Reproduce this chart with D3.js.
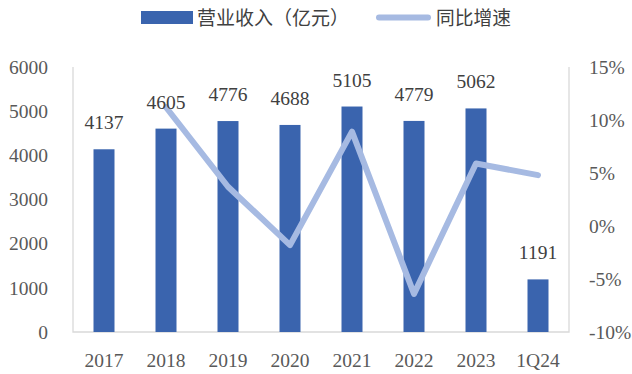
<!DOCTYPE html>
<html>
<head>
<meta charset="utf-8">
<script src="https://cdn.jsdelivr.net/npm/d3@7"></script>
<style>
  html, body { margin: 0; padding: 0; background: #fff; }
  svg { display: block; }
</style>
</head>
<body>
<svg id="chart" width="632" height="374"></svg>
<script>
// Revenue (100M CNY) and year-over-year growth
const categories = ["2017", "2018", "2019", "2020", "2021", "2022", "2023", "1Q24"];
const revenue = [4137, 4605, 4776, 4688, 5105, 4779, 5062, 1191];
const growthYears = ["2018", "2019", "2020", "2021", "2022", "2023", "1Q24"];
const growth = [11.2, 3.7, -1.8, 8.9, -6.4, 5.9, 4.8];
const leftTicks = [0, 1000, 2000, 3000, 4000, 5000, 6000];
const rightTicks = [-10, -5, 0, 5, 10, 15];
const seriesNames = ["营业收入（亿元）", "同比增速"];

const svg = d3.select("#chart");
const plot = { left: 73, right: 569, top: 67, bottom: 332 };
const numFont = "'Liberation Serif', 'DejaVu Serif', serif";
const cjkFont = "'Noto Sans CJK SC', sans-serif";
const textColor = "#595959";
const barColor = "#3A64AE";
const lineColor = "#A6BAE2";
const numSize = 19.5;

const x = d3.scaleBand().domain(categories).range([plot.left, plot.right]).paddingInner(0.66).paddingOuter(0.33);
const yL = d3.scaleLinear().domain([0, 6000]).range([plot.bottom, plot.top]);
const yR = d3.scaleLinear().domain([-10, 15]).range([plot.bottom, plot.top]);

// plot frame (left, right, bottom)
const frame = svg.append("g").attr("stroke", "#D9D9D9").attr("stroke-width", 1.3).attr("fill", "none");
frame.append("path").attr("d", `M${plot.left},${plot.top}V${plot.bottom}H${plot.right}V${plot.top}`);

// left axis
const axL = svg.append("g").attr("transform", `translate(${plot.left - 25},0)`)
  .call(d3.axisLeft(yL).tickValues(leftTicks).tickSize(0).tickPadding(0).tickFormat(d3.format("d")));
axL.select(".domain").remove();
axL.selectAll("text").attr("font-family", numFont).attr("font-size", numSize).attr("fill", textColor);

// right axis
const axR = svg.append("g").attr("transform", `translate(${plot.right + 20},0)`)
  .call(d3.axisRight(yR).tickValues(rightTicks).tickSize(0).tickPadding(0).tickFormat(d => d + "%"));
axR.select(".domain").remove();
axR.selectAll("text").attr("font-family", numFont).attr("font-size", numSize).attr("fill", textColor);

// bottom axis
const axB = svg.append("g").attr("transform", `translate(0,${plot.bottom})`)
  .call(d3.axisBottom(x).tickSize(0).tickPadding(21));
axB.select(".domain").remove();
axB.selectAll("text").attr("font-family", numFont).attr("font-size", numSize).attr("fill", textColor);

// bars
const barW = 21;
svg.append("g").selectAll("rect").data(revenue).join("rect")
  .attr("x", (d, i) => x(categories[i]) + x.bandwidth() / 2 - barW / 2)
  .attr("y", d => yL(d))
  .attr("width", barW)
  .attr("height", d => yL(0) - yL(d))
  .attr("fill", barColor);

// growth line
const line = d3.line()
  .x((d, i) => x(growthYears[i]) + x.bandwidth() / 2)
  .y(d => yR(d));
svg.append("path").datum(growth)
  .attr("d", line)
  .attr("fill", "none")
  .attr("stroke", lineColor)
  .attr("stroke-width", 6)
  .attr("stroke-linejoin", "round")
  .attr("stroke-linecap", "round");

// value labels
svg.append("g").selectAll("text").data(revenue).join("text")
  .attr("x", (d, i) => x(categories[i]) + x.bandwidth() / 2)
  .attr("y", d => yL(d) - 20)
  .attr("text-anchor", "middle")
  .attr("font-family", numFont)
  .attr("font-size", numSize)
  .attr("fill", "#404040")
  .text(d => d);

// legend
const lg = svg.append("g");
lg.append("rect").attr("x", 141).attr("y", 11).attr("width", 52).attr("height", 13).attr("fill", barColor);
lg.append("text").attr("x", 197).attr("y", 25).attr("font-family", cjkFont).attr("font-size", 19)
  .attr("textLength", 152).attr("lengthAdjust", "spacingAndGlyphs")
  .attr("fill", "#404040").text(seriesNames[0]);
lg.append("line").attr("x1", 379).attr("x2", 428).attr("y1", 17.5).attr("y2", 17.5)
  .attr("stroke", lineColor).attr("stroke-width", 6).attr("stroke-linecap", "round");
lg.append("text").attr("x", 436).attr("y", 25).attr("font-family", cjkFont).attr("font-size", 19)
  .attr("textLength", 75).attr("lengthAdjust", "spacingAndGlyphs")
  .attr("fill", "#404040").text(seriesNames[1]);
</script>
</body>
</html>
